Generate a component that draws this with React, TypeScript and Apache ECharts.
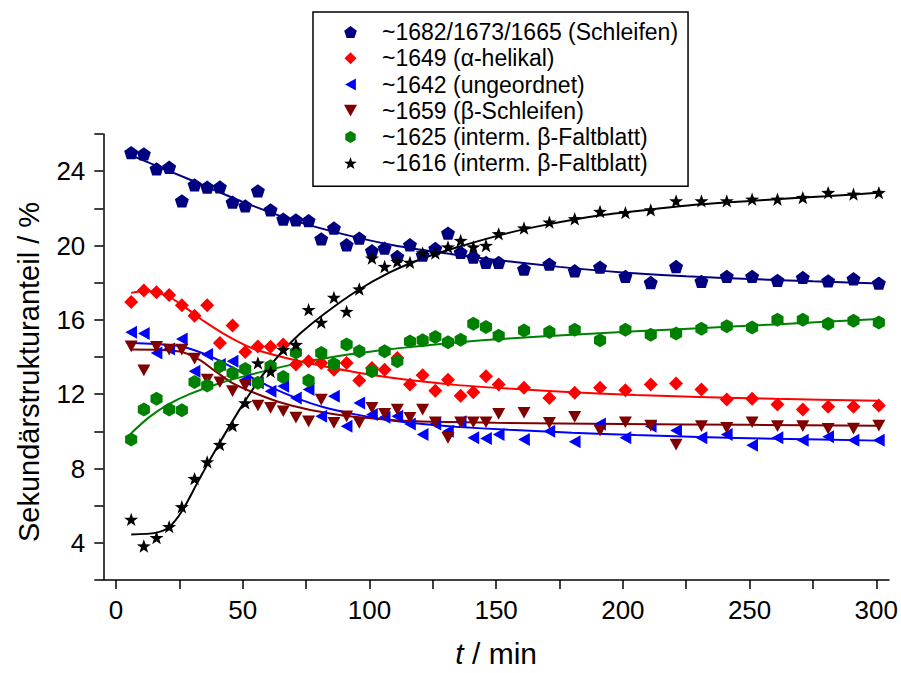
import React, { useEffect, useRef } from "react";
import * as echarts from "echarts";

const times = [6, 11, 16, 21, 26, 31, 36, 41, 46, 51, 56, 61, 66, 71, 76, 81, 86, 91, 96, 101, 106, 111, 116, 121, 126, 131, 136, 141, 146, 151, 161, 171, 181, 191, 201, 211, 221, 231, 241, 251, 261, 271, 281, 291, 301];

const navyVals = [25.0, 24.93, 24.12, 24.21, 22.4, 23.26, 23.14, 23.15, 22.33, 22.13, 22.94, 21.92, 21.42, 21.38, 21.34, 20.36, 20.94, 20.04, 20.4, 19.72, 19.86, 19.41, 20.04, 19.48, 19.84, 20.67, 19.63, 19.38, 19.09, 19.09, 18.73, 19.0, 18.64, 18.84, 18.34, 18.01, 18.87, 18.07, 18.34, 18.34, 18.12, 18.28, 18.1, 18.21, 17.98];
const redVals = [16.96, 17.58, 17.48, 17.34, 16.78, 16.22, 16.78, 14.76, 15.69, 14.27, 14.57, 14.55, 14.67, 13.59, 13.77, 13.68, 13.32, 13.68, 12.73, 13.41, 13.32, 13.95, 12.52, 13.02, 12.19, 12.78, 11.92, 12.1, 12.96, 12.52, 12.34, 11.8, 12.07, 12.34, 12.21, 12.52, 12.57, 12.25, 11.71, 11.76, 11.44, 11.17, 11.32, 11.32, 11.39];
const blueVals = [15.33, 15.26, 14.22, 14.43, 14.97, 13.23, 14.13, 13.59, 13.77, 12.78, 12.61, 12.16, 12.42, 11.8, 12.25, 10.81, 11.89, 10.28, 11.53, 10.9, 10.76, 10.81, 10.4, 9.83, 10.4, 10.01, 10.51, 9.65, 9.61, 9.83, 9.56, 10.01, 9.44, 10.4, 9.65, 10.28, 10.04, 9.65, 9.83, 9.25, 9.65, 9.52, 9.71, 9.52, 9.52];
const darkRedVals = [14.57, 13.28, 14.54, 14.4, 14.4, 13.91, 12.78, 12.64, 12.16, 12.46, 11.39, 11.26, 11.08, 10.74, 10.54, 11.71, 10.46, 10.81, 10.46, 11.26, 10.94, 11.17, 10.73, 11.17, 10.49, 9.65, 10.49, 10.49, 10.49, 10.94, 11.0, 10.46, 10.78, 10.04, 10.49, 10.31, 9.29, 10.28, 10.19, 10.49, 10.28, 10.28, 10.14, 10.15, 10.31];
const greenVals = [9.56, 11.17, 11.76, 11.17, 11.13, 12.66, 12.46, 13.5, 13.14, 13.36, 12.61, 13.5, 12.93, 14.24, 12.73, 14.22, 13.63, 14.67, 14.31, 13.23, 14.31, 13.77, 14.84, 14.9, 15.08, 14.79, 14.93, 15.79, 15.62, 15.15, 15.43, 15.35, 15.47, 14.9, 15.47, 15.2, 15.26, 15.52, 15.65, 15.59, 16.01, 16.01, 15.79, 15.95, 15.86];
const blackVals = [5.26, 3.83, 4.28, 4.87, 5.94, 7.46, 8.36, 9.29, 10.31, 11.53, 13.68, 13.23, 14.4, 14.67, 16.55, 15.86, 17.21, 16.45, 17.66, 19.32, 18.87, 19.14, 19.09, 19.6, 19.59, 19.92, 20.27, 19.92, 20.0, 20.63, 20.94, 21.26, 21.44, 21.83, 21.77, 21.92, 22.4, 22.4, 22.4, 22.49, 22.49, 22.58, 22.85, 22.76, 22.85];

// fitted curves: [t, value]
const navyFit = [[6, 24.85], [30, 23.5], [50, 22.35], [70, 21.35], [90, 20.6], [110, 20.0], [130, 19.58], [150, 19.22], [175, 18.85], [200, 18.55], [225, 18.35], [250, 18.2], [275, 18.07], [301, 17.95]];
const redFit = [[6, 17.45], [12, 17.55], [20, 17.3], [27, 16.7], [35, 15.9], [45, 15.05], [55, 14.4], [70, 13.85], [82, 13.5], [95, 13.17], [108, 12.9], [121, 12.68], [134, 12.5], [155, 12.3], [180, 12.1], [205, 11.95], [230, 11.85], [260, 11.75], [301, 11.65]];
const blueFit = [[6, 14.75], [15, 14.7], [26, 14.55], [37, 14.05], [50, 13.15], [60, 12.45], [72, 11.75], [82, 11.3], [95, 10.9], [108, 10.6], [121, 10.4], [134, 10.25], [155, 10.08], [180, 9.93], [205, 9.8], [230, 9.7], [260, 9.6], [301, 9.5]];
const darkRedFit = [[6, 14.4], [25, 14.3], [33, 13.85], [40, 13.15], [46, 12.6], [55, 12.05], [65, 11.55], [75, 11.2], [85, 10.95], [95, 10.77], [110, 10.6], [125, 10.52], [150, 10.46], [200, 10.4], [250, 10.35], [301, 10.3]];
const greenFit = [[6, 9.9], [13, 10.75], [20, 11.4], [29, 12.0], [40, 12.55], [53, 13.05], [68, 13.55], [82, 13.92], [95, 14.2], [108, 14.42], [121, 14.6], [134, 14.78], [155, 15.0], [180, 15.2], [205, 15.38], [230, 15.55], [260, 15.75], [301, 16.05]];
const blackFit = [[6, 4.45], [16, 4.55], [21, 4.85], [26, 5.7], [32, 7.2], [37, 8.45], [41, 9.4], [46, 10.55], [51, 11.65], [58, 13.05], [66, 14.35], [73, 15.3], [82, 16.3], [95, 17.55], [108, 18.55], [121, 19.3], [134, 19.88], [155, 20.68], [171, 21.15], [190, 21.6], [210, 21.92], [230, 22.2], [256, 22.45], [280, 22.65], [302, 22.85]];

const seriesNames = [
  "~1682/1673/1665 (Schleifen)",
  "~1649 (\u03b1-helikal)",
  "~1642 (ungeordnet)",
  "~1659 (\u03b2-Schleifen)",
  "~1625 (interm. \u03b2-Faltblatt)",
  "~1616 (interm. \u03b2-Faltblatt)",
];
const colors = ["#000080", "#ff0000", "#0000ff", "#800000", "#008000", "#000000"];

const xTicks = [0, 25, 50, 75, 100, 125, 150, 175, 200, 225, 250, 275, 300];
const xLabels = [0, 50, 100, 150, 200, 250, 300];
const yLabels = [4, 8, 12, 16, 20, 24];

const SYM_PENTAGON = "path://M10,0 L19.51,6.91 L15.88,18.09 L4.12,18.09 L0.49,6.91 Z";
const SYM_DIAMOND = "path://M5,0 L10,5 L5,10 L0,5 Z";
const SYM_LEFT = "path://M0,5 L9,0 L9,10 Z";
const SYM_DOWN = "path://M0,0 L10,0 L5,9 Z";
const SYM_HEX = "path://M5,0 L9.33,2.5 L9.33,7.5 L5,10 L0.67,7.5 L0.67,2.5 Z";
const SYM_STAR = "path://M10,0 L12.35,6.76 L19.51,6.91 L13.8,11.24 L15.88,18.09 L10,14 L4.12,18.09 L6.2,11.24 L0.49,6.91 L7.65,6.76 Z";

const symbols = [SYM_PENTAGON, SYM_DIAMOND, SYM_LEFT, SYM_DOWN, SYM_HEX, SYM_STAR];
const symSizes = [14, 14, 13, 13, 14, 14];
const valueSets = [navyVals, redVals, blueVals, darkRedVals, greenVals, blackVals];
const fitSets = [navyFit, redFit, blueFit, darkRedFit, greenFit, blackFit];

const FONT = "'Liberation Sans', Arial, sans-serif";

export default function App() {
  const ref = useRef<HTMLDivElement>(null);
  useEffect(() => {
    document.body.style.margin = "0";
    if (!ref.current) return;
    const chart = echarts.init(ref.current, undefined, { renderer: "svg" });

    const series: any[] = [];
    fitSets.forEach((fit, i) => {
      series.push({
        type: "line",
        name: "fit" + i,
        data: fit,
        showSymbol: false,
        symbol: "none",
        smooth: 0.3,
        lineStyle: { color: colors[i], width: 2 },
        z: 2,
        silent: true,
      });
    });
    valueSets.forEach((vals, i) => {
      series.push({
        type: "scatter",
        name: seriesNames[i],
        data: times.map((t, k) => [t, vals[k]]),
        symbol: symbols[i],
        symbolSize: symSizes[i],
        symbolKeepAspect: true,
        itemStyle: { color: colors[i], opacity: 1 },
        z: 3,
      });
    });

    chart.setOption({
      animation: false,
      textStyle: { fontFamily: FONT },
      grid: { left: 103.3, right: 10, top: 134, bottom: 92.3, containLabel: false },
      legend: {
        orient: "vertical",
        left: 313,
        top: 12,
        data: seriesNames,
        itemWidth: 13,
        itemHeight: 12,
        itemGap: 0,
        padding: [7, 10, 10, 31],
        borderColor: "#000",
        borderWidth: 1.5,
        backgroundColor: "#fff",
        symbolKeepAspect: true,
        formatter: (name: string) => "{g|}" + name,
        textStyle: {
          fontSize: 23,
          lineHeight: 26.2,
          color: "#000",
          fontFamily: FONT,
          rich: { g: { width: 20, fontSize: 23, lineHeight: 26.2 } },
        },
        selectedMode: false,
      },
      xAxis: {
        type: "value",
        min: -5,
        max: 305,
        splitLine: { show: false },
        axisLine: { show: true, onZero: false, lineStyle: { color: "#000", width: 1.5 } },
        axisTick: { show: true, customValues: xTicks, length: 9, lineStyle: { color: "#000", width: 1.5 } },
        axisLabel: { customValues: xLabels, fontSize: 26, color: "#000", margin: 17, fontFamily: FONT },
        name: "{i|t} / min",
        nameLocation: "middle",
        nameGap: 58,
        nameTextStyle: {
          fontSize: 30,
          color: "#000",
          fontFamily: FONT,
          rich: { i: { fontStyle: "italic", fontSize: 30, color: "#000", fontFamily: FONT } },
        },
      },
      yAxis: {
        type: "value",
        min: 2,
        max: 26,
        interval: 2,
        splitLine: { show: false },
        axisLine: { show: true, onZero: false, lineStyle: { color: "#000", width: 1.5 } },
        axisTick: { show: true, length: 9, lineStyle: { color: "#000", width: 1.5 } },
        axisLabel: { customValues: yLabels, fontSize: 26, color: "#000", margin: 18, fontFamily: FONT },
        name: "Sekund\u00e4rstrukturanteil / %",
        nameLocation: "middle",
        nameGap: 60,
        nameTextStyle: { fontSize: 29, color: "#000", fontFamily: FONT, padding: [0, 30, 0, 0] },
      },
      series,
    });
    return () => chart.dispose();
  }, []);
  return (
    <div
      ref={ref}
      style={{ position: "fixed", left: 0, top: 0, width: 901, height: 673, background: "#fff" }}
    />
  );
}
